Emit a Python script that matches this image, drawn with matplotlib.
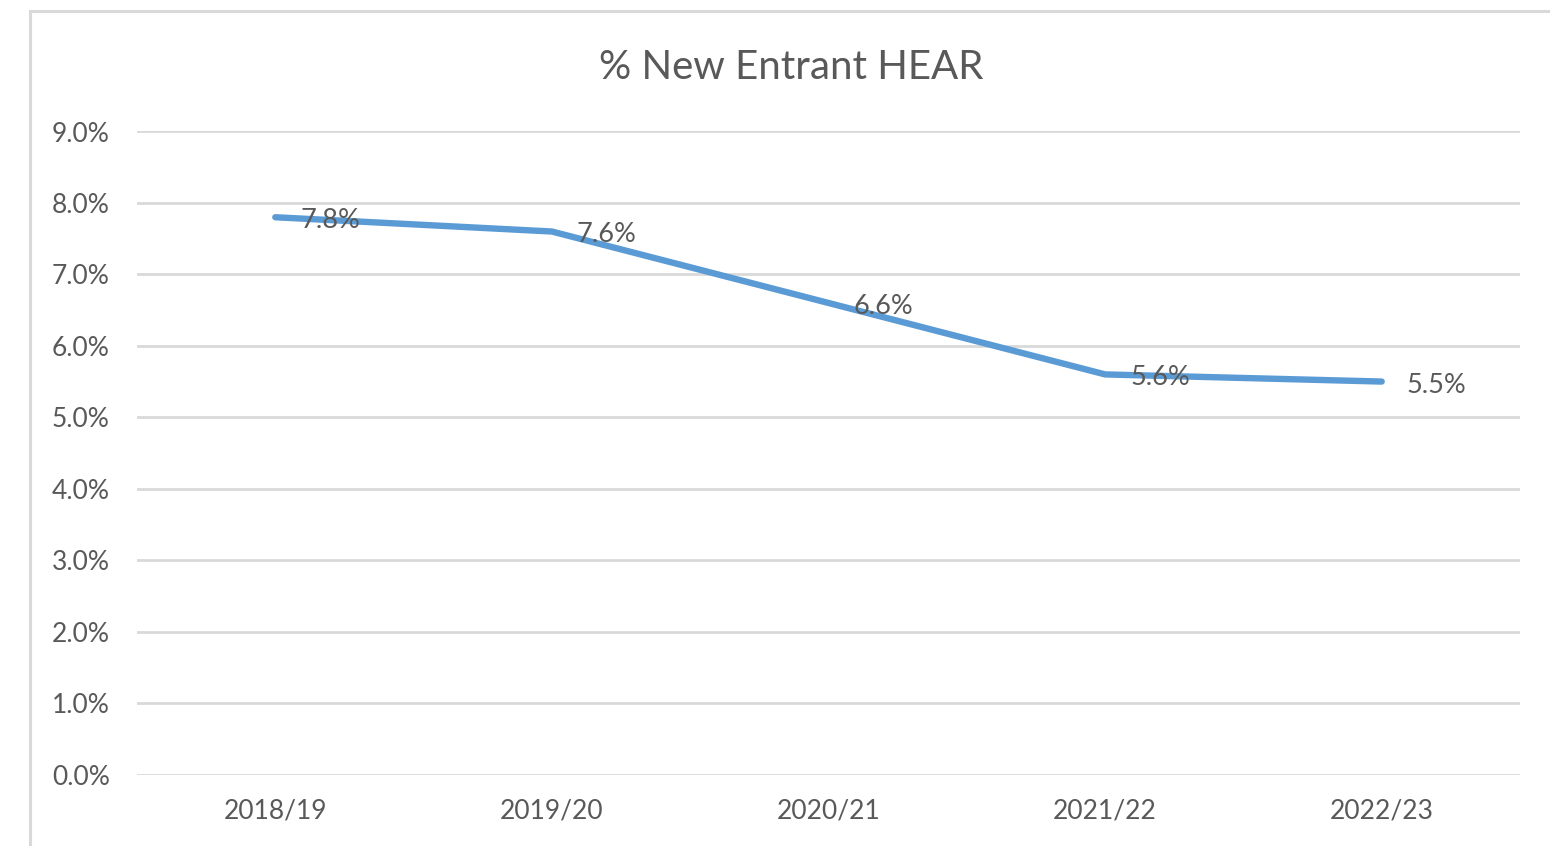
import matplotlib
matplotlib.use("Agg")
import matplotlib.pyplot as plt
from matplotlib.patches import Rectangle
from matplotlib.ticker import PercentFormatter

categories = ["2018/19", "2019/20", "2020/21", "2021/22", "2022/23"]
values = [7.8, 7.6, 6.6, 5.6, 5.5]
labels = ["7.8%", "7.6%", "6.6%", "5.6%", "5.5%"]
title = "% New Entrant HEAR"

plt.rcParams['font.family'] = ['Lato', 'DejaVu Sans']
TXT = "#595959"
GRID = "#d9d9d9"
LINE = "#5b9bd5"

W, H = 1550, 846
fig = plt.figure(figsize=(W / 100, H / 100), dpi=100)
fig.patch.set_facecolor("white")

# chart frame (cropped at right/bottom)
fig.patches.append(Rectangle((30 / W, -0.05), 1.1, 1 - 11 / H + 0.05,
                             transform=fig.transFigure, fill=False,
                             edgecolor=GRID, linewidth=2.2))

ax = fig.add_axes([137 / W, 1 - 774.5 / H, (1520 - 137) / W, (774.5 - 131.5) / H])
x = list(range(len(categories)))
ax.plot(x, values, color=LINE, linewidth=4.6, solid_capstyle="round", zorder=3)
for xi, v, lab in zip(x, values, labels):
    ax.annotate(lab, (xi, v), xytext=(18, -2.5), textcoords="offset points",
                ha="left", va="center", fontsize=19.5, color=TXT, zorder=4)

ax.set_xlim(-0.5, len(categories) - 0.5)
ax.set_ylim(0, 9)
ax.set_yticks([0, 1, 2, 3, 4, 5, 6, 7, 8, 9])
ax.yaxis.set_major_formatter(PercentFormatter(decimals=1))
ax.set_xticks(x)
ax.set_xticklabels(categories)
ax.tick_params(axis="both", length=0, labelsize=19, labelcolor=TXT)
ax.tick_params(axis="y", pad=19.5)
ax.tick_params(axis="x", pad=17)
ax.grid(axis="y", color=GRID, linewidth=2)
ax.set_axisbelow(True)
for s in ax.spines.values():
    s.set_visible(False)

fig.text((598 + 985) / 2 / W, 1 - 67 / H, title, ha="center", va="center",
         fontsize=29, color=TXT)

fig.savefig("out.png", dpi=100, facecolor="white")
